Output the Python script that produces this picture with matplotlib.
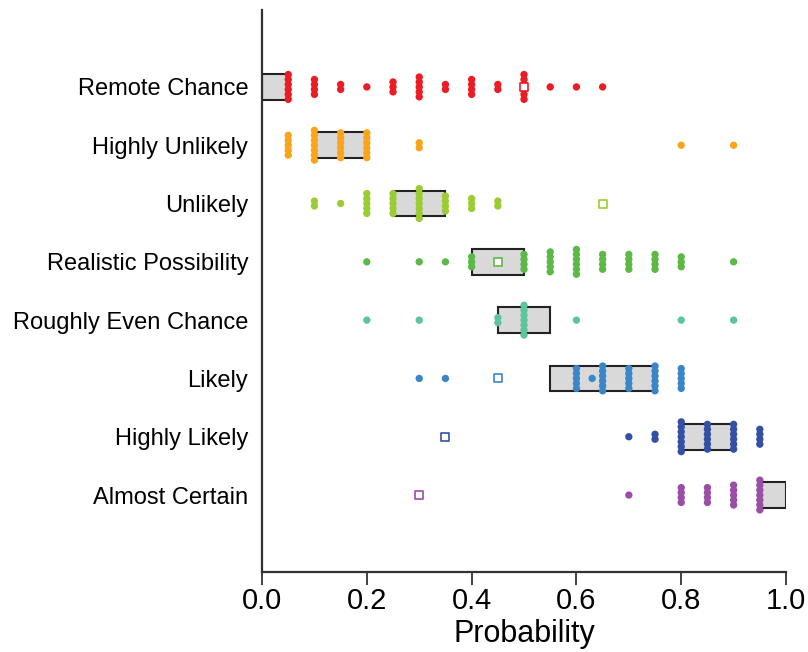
import numpy as np
import matplotlib.pyplot as plt
from matplotlib.patches import Rectangle

plt.rcParams['font.family'] = ['Liberation Sans', 'DejaVu Sans']

categories = ["Remote Chance", "Highly Unlikely", "Unlikely", "Realistic Possibility",
              "Roughly Even Chance", "Likely", "Highly Likely", "Almost Certain"]
colors = ["#ec1c24", "#f8a51c", "#9ccc34", "#5cb946",
          "#5ec49e", "#3a86c8", "#3450a4", "#9a4ea6"]

# responses per phrase: answered probability and how many people gave it
remote_vals = [0.05, 0.10, 0.15, 0.20, 0.25, 0.30, 0.35, 0.40, 0.45, 0.50, 0.55, 0.60, 0.65]
remote_counts = [6, 4, 2, 1, 3, 5, 2, 4, 2, 6, 1, 1, 1]

highly_unlikely_vals = [0.05, 0.10, 0.15, 0.20, 0.30, 0.80, 0.90]
highly_unlikely_counts = [5, 7, 6, 6, 2, 1, 1]

unlikely_vals = [0.10, 0.15, 0.20, 0.25, 0.30, 0.35, 0.40, 0.45]
unlikely_counts = [2, 1, 5, 5, 7, 4, 3, 2]

realistic_vals = [0.20, 0.30, 0.35, 0.40, 0.50, 0.55, 0.60, 0.65, 0.70, 0.75, 0.80, 0.90]
realistic_counts = [1, 1, 1, 3, 4, 5, 6, 4, 4, 4, 3, 1]

even_vals = [0.20, 0.30, 0.45, 0.50, 0.60, 0.80, 0.90]
even_counts = [1, 1, 2, 7, 1, 1, 1]

likely_vals = [0.30, 0.35, 0.60, 0.63, 0.65, 0.70, 0.75, 0.80]
likely_counts = [1, 1, 5, 1, 6, 5, 6, 5]

highly_likely_vals = [0.70, 0.75, 0.80, 0.85, 0.90, 0.95]
highly_likely_counts = [1, 2, 7, 6, 6, 4]

certain_vals = [0.70, 0.80, 0.85, 0.90, 0.95]
certain_counts = [1, 4, 4, 5, 7]

all_vals = [remote_vals, highly_unlikely_vals, unlikely_vals, realistic_vals,
            even_vals, likely_vals, highly_likely_vals, certain_vals]
all_counts = [remote_counts, highly_unlikely_counts, unlikely_counts, realistic_counts,
              even_counts, likely_counts, highly_likely_counts, certain_counts]

# interquartile boxes
box_lo = [0.00, 0.10, 0.25, 0.40, 0.45, 0.55, 0.80, 0.95]
box_hi = [0.05, 0.20, 0.35, 0.50, 0.55, 0.75, 0.90, 1.00]

# open square markers (None = not shown)
square_x = [0.50, None, 0.65, 0.45, None, 0.45, 0.35, 0.30]

fig = plt.figure(figsize=(8.08, 6.52), dpi=100)
ax = fig.add_axes([0.3243, 0.1227, 0.6485, 0.862])

n = len(categories)
ypos = np.arange(n, 0, -1)
box_h = 0.44
step = 0.085

for i in range(n):
    y = ypos[i]
    ax.add_patch(Rectangle((box_lo[i], y - box_h / 2), box_hi[i] - box_lo[i], box_h,
                           facecolor="#d9d9d9", edgecolor="#222222", lw=1.5, zorder=2))
    xs, ys = [], []
    for v, c in zip(all_vals[i], all_counts[i]):
        offs = (np.arange(c) - (c - 1) / 2) * step
        xs.extend([v] * c)
        ys.extend(y + offs)
    ax.scatter(xs, ys, s=28, color=colors[i], edgecolors='none', zorder=3)
    if square_x[i] is not None:
        ax.scatter([square_x[i]], [y], s=34, marker='s', facecolors='white',
                   edgecolors=colors[i], linewidths=1.2, zorder=4)

ax.set_xlim(0, 1)
ax.set_ylim(-0.32, 9.32)
ax.set_yticks(ypos)
ax.set_yticklabels(categories, fontsize=17)
ax.tick_params(axis='y', length=0, pad=10)
ax.set_xticks([0, 0.2, 0.4, 0.6, 0.8, 1.0])
ax.set_xticklabels(["0.0", "0.2", "0.4", "0.6", "0.8", "1.0"], fontsize=21)
ax.tick_params(axis='x', length=9, width=1.3, color="#333333", pad=2)
ax.set_xlabel("Probability", fontsize=22, labelpad=3)

for side in ['top', 'right']:
    ax.spines[side].set_visible(False)
for side in ['left', 'bottom']:
    ax.spines[side].set_linewidth(1.6)
    ax.spines[side].set_color("#333333")

fig.savefig("out.png", dpi=100)
